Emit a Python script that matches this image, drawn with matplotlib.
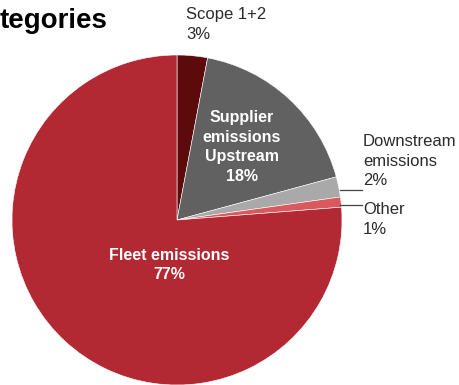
import matplotlib.pyplot as plt

plt.rcParams['font.family'] = ['Liberation Sans', 'DejaVu Sans']

# emission shares, clockwise from 12 o'clock
labels = ['Scope 1+2', 'Supplier\nemissions\nUpstream', 'Downstream\nemissions', 'Other', 'Fleet emissions']
shares = [3, 18, 2, 1, 77]
colors = ['#5c0a0c', '#616161', '#a9a9a9', '#d95a5e', '#b22833']

fig = plt.figure(figsize=(4.6, 3.85), dpi=100)
ax = fig.add_axes([0, 0, 1, 1])

wedges, _ = ax.pie(shares, colors=colors, startangle=90, counterclock=False,
                   radius=1.0, center=(0, 0),
                   wedgeprops=dict(edgecolor='white', linewidth=0.4))

# 165 px per unit, pie centre at (177, 220) px from top-left
ax.set_xlim(-177 / 165, (460 - 177) / 165)
ax.set_ylim(-1.0, 220 / 165)
ax.set_aspect('equal')
ax.axis('off')

def px(x, y):
    return (x - 177) / 165, (220 - y) / 165

fs = 12
ls = 1.38
dark = '#2b2b2b'
ax.text(*px(0, 21), 'tegories', fontsize=20, fontweight='bold', ha='left', va='center', color='black')

ax.text(*px(186, 7), f'{labels[0]}\n{shares[0]}%', fontsize=fs, ha='left', va='top',
        color=dark, linespacing=ls)
ax.text(*px(242, 147), f'{labels[1]}\n{shares[1]}%', fontsize=11.5, fontweight='bold', ha='center',
        va='center', color='white', linespacing=ls)
ax.text(*px(363, 134), f'{labels[2]}\n{shares[2]}%', fontsize=fs, ha='left', va='top',
        color=dark, linespacing=ls)
ax.text(*px(363, 202), f'{labels[3]}\n{shares[3]}%', fontsize=fs, ha='left', va='top',
        color=dark, linespacing=ls)
ax.text(*px(169, 265), f'{labels[4]}\n{shares[4]}%', fontsize=11.5, fontweight='bold', ha='center',
        va='center', color='white', linespacing=ls)

# leader lines for the small slices
for y0 in (190, 205):
    x1, y1 = px(340, y0)
    x2, _ = px(362, y0)
    ax.plot([x1, x2], [y1, y1], color='#444444', linewidth=0.9)

fig.savefig('out.png', dpi=100)
